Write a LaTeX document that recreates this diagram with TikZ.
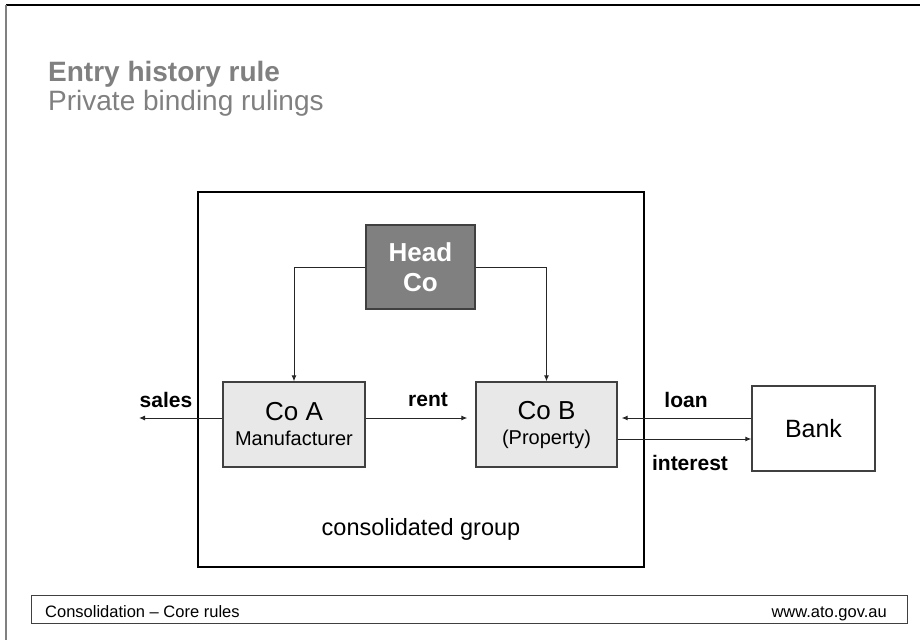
\documentclass[tikz,border=0pt]{standalone}
\usepackage{fontspec}
\setmainfont{Liberation Sans}
\usetikzlibrary{arrows.meta}
\definecolor{titlegray}{RGB}{128,128,128}
\definecolor{headfill}{RGB}{128,128,128}
\definecolor{cofill}{RGB}{232,232,232}
\definecolor{edgegray}{RGB}{64,64,64}

\begin{document}
\begin{tikzpicture}[x=1pt, y=-1pt,
    cobox/.style={draw=edgegray, line width=1.3pt, fill=cofill, inner sep=0pt,
        minimum height=85pt, align=center, font=\fontsize{26}{25}\selectfont},
    flow/.style={draw=black!85, line width=1pt, -{Latex[length=6pt,width=5pt]}},
    flowlabel/.style={anchor=base, inner sep=0pt, font=\bfseries\fontsize{21}{24}\selectfont}]
    \useasboundingbox (0,0) rectangle (920,640);

    % slide frame
    \draw[line width=1.4pt] (6,5) -- (920,5);
    \draw[line width=1.4pt, titlegray] (6,5) -- (6,640);

    % title
    \node[anchor=base west, inner sep=0pt, titlegray, font=\bfseries\fontsize{28}{30}\selectfont] (title) at (48,81) {Entry history rule};
    \node[anchor=base west, inner sep=0pt, titlegray, font=\fontsize{28}{30}\selectfont] (subtitle) at (48,110) {Private binding rulings};

    % consolidated group
    \node[draw, line width=1.4pt, minimum width=446pt, minimum height=375pt, inner sep=0pt] (group) at (421,379.5) {};
    \node[anchor=base, inner sep=0pt, font=\fontsize{23.5}{26}\selectfont] (grouplbl) at (421,535) {consolidated group};

    % companies
    \node[draw=edgegray, line width=1.3pt, fill=headfill, text=white, inner sep=0pt,
        minimum width=109pt, minimum height=84pt, align=center,
        font=\bfseries\fontsize{26}{30}\selectfont] (headco) at (420.5,267) {Head\\Co};
    \node[cobox, minimum width=142pt] (coa) at (294,424.5) {Co A\\\fontsize{20}{25}\selectfont Manufacturer};
    \node[cobox, minimum width=141pt] (cob) at (546.5,424.5) {Co B\\\fontsize{20}{25}\selectfont (Property)};
    \node[draw=edgegray, line width=1.3pt, fill=white, inner sep=0pt,
        minimum width=123pt, minimum height=85pt,
        font=\fontsize{25}{28}\selectfont] (bank) at (813.5,428.5) {Bank};

    % ownership
    \draw[flow] (headco.west) -| (coa.north);
    \draw[flow] (headco.east) -| (cob.north);

    % flows
    \coordinate (salesend) at (139,418);
    \draw[flow] ([yshift=6.5pt]coa.west) -- (salesend);
    \draw[flow, shorten >=8pt] ([yshift=6.5pt]coa.east) -- ([yshift=6.5pt]cob.west);
    \draw[flow, shorten >=4pt] ([yshift=10.5pt]bank.west) -- ([yshift=6.5pt]cob.east);
    \draw[flow] ([yshift=-14.5pt]cob.east) -- ([yshift=-14.5pt]cob.east -| bank.west);

    \node[flowlabel] (saleslbl) at (166,407) {sales};
    \node[flowlabel] (rentlbl) at (428,406) {rent};
    \node[flowlabel] (loanlbl) at (686,407) {loan};
    \node[flowlabel] (interestlbl) at (690,470) {interest};

    % footer
    \node[draw=edgegray, line width=1pt, minimum width=876pt, minimum height=28pt, inner sep=0pt] (footer) at (469,609) {};
    \node[anchor=base west, inner sep=0pt, font=\fontsize{16.5}{18}\selectfont] (footleft) at (45,617) {Consolidation – Core rules};
    \node[anchor=base east, inner sep=0pt, font=\fontsize{16.5}{18}\selectfont] (footright) at (887,617) {www.ato.gov.au};
\end{tikzpicture}
\end{document}
